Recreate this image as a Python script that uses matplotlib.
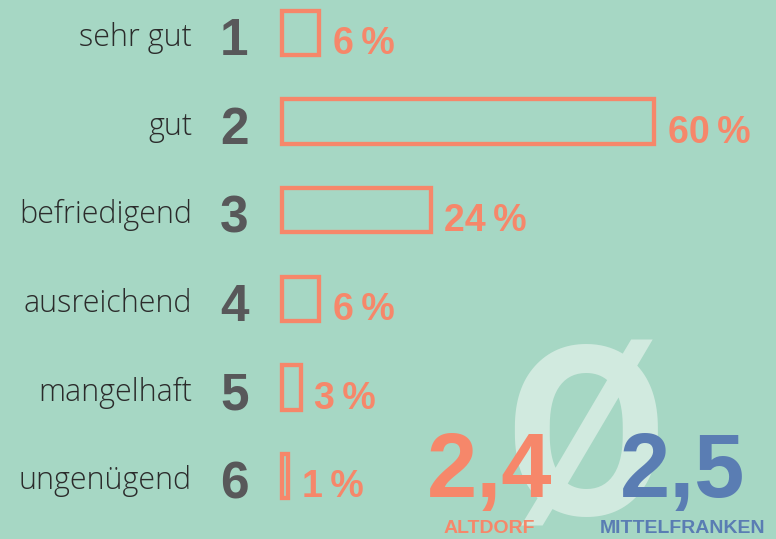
import matplotlib.pyplot as plt
from matplotlib.patches import Rectangle

# ------------------------------------------------------------
# Data
# ------------------------------------------------------------
categories = ["sehr gut", "gut", "befriedigend", "ausreichend", "mangelhaft", "ungenügend"]
grades = ["1", "2", "3", "4", "5", "6"]
percents = [6, 60, 24, 6, 3, 1]
avg_labels = ["ALTDORF", "MITTELFRANKEN"]
avg_values = ["2,4", "2,5"]

BG = "#a6d7c4"
SALMON = "#f6876a"
BLUE = "#5a7db3"
GRAY = "#58585a"
TEXT = "#2b2b2b"
LIGHT = "#d1eadf"
NUM_FONT = ["Liberation Sans", "DejaVu Sans"]

fig = plt.figure(figsize=(7.76, 5.39), dpi=100, facecolor=BG)
ax = fig.add_axes([0, 0, 1, 1])
ax.set_facecolor(BG)
ax.axis("off")

# pixel layout: 0 % at x=282px, 6.2 px per %, rows every 88.6 px from y=33
PX = 6.2
X0 = 282
ax.set_xlim(-X0 / PX, (776 - X0) / PX)
ax.set_ylim((539 - 33) / 88.6, -33 / 88.6)

bar_h = 0.5
for i, (cat, g, p) in enumerate(zip(categories, grades, percents)):
    ax.add_patch(Rectangle((0, i - bar_h / 2), p, bar_h, fill=False,
                           edgecolor=SALMON, linewidth=3.1, zorder=3))
    ax.text(-14.5, i + 0.15, cat, ha="right", va="baseline", fontsize=22,
            color=TEXT, family="Open Sans", fontweight="light")
    ax.text(-5.4, i + 0.25, g, ha="right", va="baseline", fontsize=37,
            color=GRAY, family="Liberation Sans", fontweight="bold")
    ax.text(p + 2.2, i + 0.24, f"{p}\u2009%", ha="left", va="baseline", fontsize=27,
            color=SALMON, family=NUM_FONT, fontweight="bold")

# big average symbol and values
fig.text(0.7526, 0.0445, "Ø", ha="center", va="baseline", fontsize=170,
         color=LIGHT, family="Roboto", fontweight="bold", zorder=1)
cols = [SALMON, BLUE]
xs = [0.631, 0.880]
for x, lab, val, c in zip(xs, avg_labels, avg_values, cols):
    fig.text(x, 0.078, val, ha="center", va="baseline", fontsize=65,
             color=c, family="Liberation Sans", fontweight="bold", zorder=4)
    fig.text(x, 0.011, lab, ha="center", va="baseline", fontsize=14,
             color=c, family="Liberation Sans", fontweight="bold", zorder=4)

fig.savefig("out.png", dpi=100, facecolor=BG)
